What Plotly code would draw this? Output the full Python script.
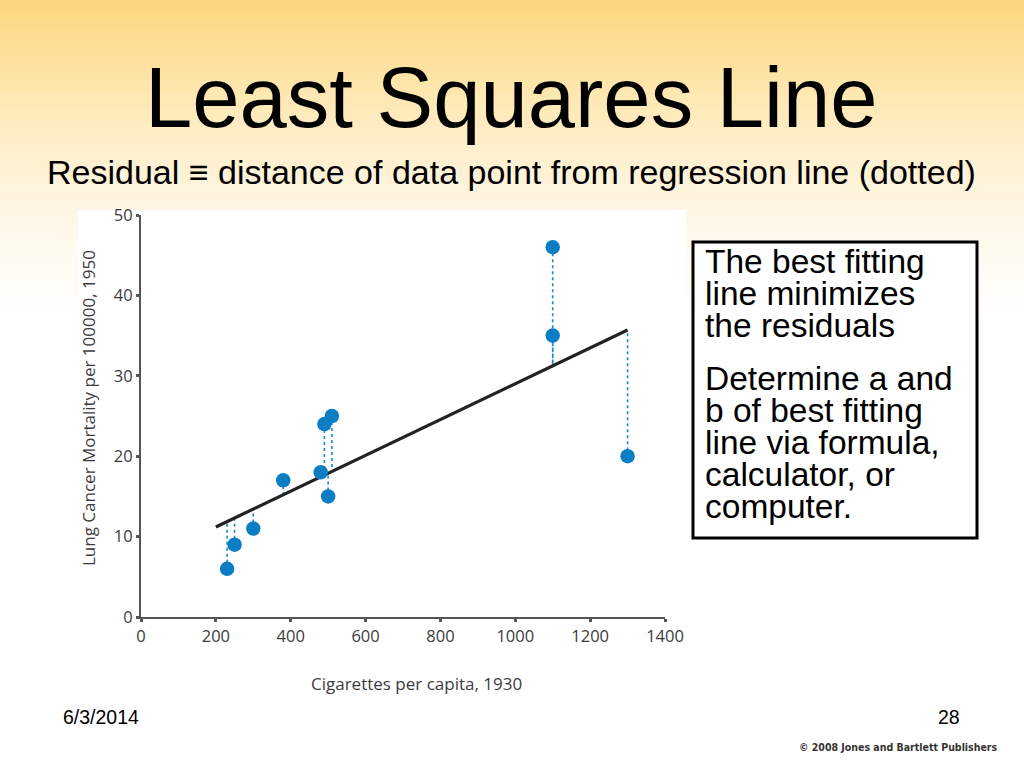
import numpy as np
import plotly.graph_objects as go

# ---- data ----
cigarettes = [230, 250, 300, 380, 480, 490, 500, 510, 1100, 1100, 1300]
mortality = [6, 9, 11, 17, 18, 24, 15, 25, 46, 35, 20]
fit_x = [200, 1300]
fit_y = [11.2, 35.7]
x_ticks = [0, 200, 400, 600, 800, 1000, 1200, 1400]
y_ticks = [0, 10, 20, 30, 40, 50]
box_lines_1 = ["The best fitting", "line minimizes", "the residuals"]
box_lines_2 = ["Determine a and", "b of best fitting", "line via formula,", "calculator, or", "computer."]

W, H = 1024, 768
ML, MR, MT, MB = 141, 359, 215, 151
PW, PH = W - ML - MR, H - MT - MB


def px(x):
    return (x - ML) / PW


def py(y):
    return (H - MB - y) / PH


# residual segments (point -> regression line)
line_at = np.interp(cigarettes, fit_x, fit_y)
res_x, res_y = [], []
for xi, yi, li in zip(cigarettes, mortality, line_at):
    res_x += [xi, xi, None]
    res_y += [yi, li, None]

fig = go.Figure()
fig.add_trace(go.Scatter(x=res_x, y=res_y, mode="lines",
                         line=dict(color="#1a88cc", width=1.6, dash="dot"),
                         hoverinfo="skip", showlegend=False))
fig.add_trace(go.Scatter(x=fit_x, y=fit_y, mode="lines",
                         line=dict(color="#222222", width=3.2),
                         showlegend=False))
fig.add_trace(go.Scatter(x=cigarettes, y=mortality, mode="markers",
                         marker=dict(color="#0B7DC3", size=14.5),
                         showlegend=False))

shapes = []
# background gradient (bands)
stops = [(0, (252, 214, 125)), (50, (254, 223, 152)), (100, (254, 232, 180)),
         (150, (255, 239, 205)), (200, (255, 245, 225)), (250, (255, 250, 240)),
         (300, (255, 254, 250)), (330, (255, 255, 255))]
band = 5
for y0 in range(0, 330, band):
    yc = y0 + band / 2
    cols = []
    for k in range(3):
        cols.append(int(round(np.interp(yc, [s[0] for s in stops], [s[1][k] for s in stops]))))
    shapes.append(dict(type="rect", xref="paper", yref="paper", layer="below",
                       x0=px(0), x1=px(W), y0=py(y0 + band + 0.5), y1=py(y0),
                       fillcolor="rgb(%d,%d,%d)" % tuple(cols), line=dict(width=0)))
# white chart panel
shapes.append(dict(type="rect", xref="paper", yref="paper", layer="below",
                   x0=px(78), x1=px(686), y0=py(700), y1=py(210),
                   fillcolor="white", line=dict(width=0)))
# text box
shapes.append(dict(type="rect", xref="paper", yref="paper", layer="below",
                   x0=px(693), x1=px(977), y0=py(538), y1=py(242),
                   fillcolor="white", line=dict(color="black", width=3)))

SANS = "Liberation Sans, Arial, sans-serif"
AXF = "Open Sans, Lato, sans-serif"
ann = []
ann.append(dict(text="Least Squares Line", x=px(511), y=py(98), xref="paper", yref="paper",
                xanchor="center", yanchor="middle", showarrow=False,
                font=dict(family=SANS, size=85, color="black")))
ann.append(dict(text="Residual \u2261 distance of data point from regression line (dotted)",
                x=px(511), y=py(172), xref="paper", yref="paper",
                xanchor="center", yanchor="middle", showarrow=False,
                font=dict(family=SANS, size=34, color="black")))
baselines = [273, 305, 337, 390, 422, 454, 486, 518]
for t, b in zip(box_lines_1 + box_lines_2, baselines):
    ann.append(dict(text=t, x=px(703), y=py(b - 11.5), xref="paper", yref="paper",
                    xanchor="left", yanchor="middle", showarrow=False,
                    font=dict(family=SANS, size=33.5, color="black")))
ann.append(dict(text="6/3/2014", x=px(61), y=py(717), xref="paper", yref="paper",
                xanchor="left", yanchor="middle", showarrow=False,
                font=dict(family=SANS, size=19.5, color="black")))
ann.append(dict(text="28", x=px(962), y=py(717), xref="paper", yref="paper",
                xanchor="right", yanchor="middle", showarrow=False,
                font=dict(family=SANS, size=19.5, color="black")))
ann.append(dict(text="<b>\u00a9 2008 Jones and Bartlett Publishers</b>", x=px(1000), y=py(747),
                xref="paper", yref="paper", xanchor="right", yanchor="middle", showarrow=False,
                font=dict(family="Liberation Sans Narrow, DejaVu Sans Condensed, sans-serif",
                          size=10.5, color="#333333")))
# axis titles
ann.append(dict(text="Cigarettes per capita, 1930", x=px(416), y=py(683), xref="paper", yref="paper",
                xanchor="center", yanchor="middle", showarrow=False,
                font=dict(family=AXF, size=17, color="#3c3c3c")))
ann.append(dict(text="Lung Cancer Mortality per 100000, 1950", x=px(88), y=py(408),
                xref="paper", yref="paper", textangle=-90,
                xanchor="center", yanchor="middle", showarrow=False,
                font=dict(family=AXF, size=17, color="#3c3c3c")))

fig.update_layout(
    width=W, height=H,
    margin=dict(l=ML, r=MR, t=MT, b=MB, pad=0),
    paper_bgcolor="white", plot_bgcolor="rgba(0,0,0,0)",
    shapes=shapes, annotations=ann, showlegend=False,
    xaxis=dict(range=[0, 1400], tickvals=x_ticks, showline=True, linecolor="#555555",
               linewidth=2, ticks="outside", ticklen=3, tickwidth=3, tickcolor="#555555",
               showgrid=False, zeroline=False,
               tickfont=dict(family=AXF, size=16.5, color="#3c3c3c")),
    yaxis=dict(range=[0, 50], tickvals=y_ticks, showline=True, linecolor="#555555",
               linewidth=2, ticks="outside", ticklen=3, tickwidth=3, tickcolor="#555555",
               showgrid=False, zeroline=False,
               tickfont=dict(family=AXF, size=16.5, color="#3c3c3c")),
)

fig.write_html("out.html", config={"displayModeBar": False},
               post_script="document.body.style.margin='0px';document.body.style.overflow='hidden';")
